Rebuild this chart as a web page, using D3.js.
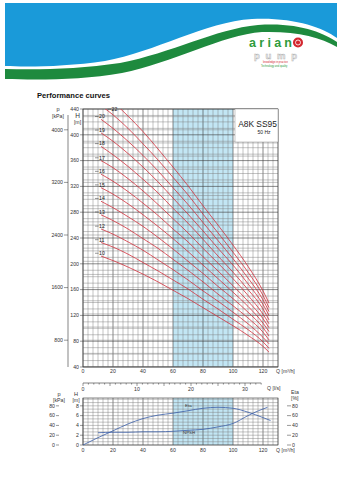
<!DOCTYPE html>
<html><head><meta charset="utf-8">
<script src="https://cdn.jsdelivr.net/npm/d3@7"></script>
<style>body{margin:0;background:#fff}svg{display:block}text{font-family:"Liberation Sans",Arial,sans-serif}</style>
</head><body><svg id="c" width="342" height="480"></svg>
<script>
// ---------- data ----------
const flowQ = [12, 20, 30, 40, 50, 60, 70, 80, 90, 100, 110, 120, 124];
const head10 = [212, 205, 195, 184, 172, 159, 146, 132, 118, 104, 89, 72, 63];
const head11 = [233, 226, 215, 202, 189, 175, 161, 145, 130, 114, 98, 79, 69];
const head12 = [254, 246, 234, 221, 206, 191, 175, 158, 142, 125, 107, 86, 76];
const head13 = [276, 267, 254, 239, 224, 207, 190, 172, 153, 135, 116, 94, 82];
const head14 = [297, 287, 273, 258, 241, 223, 204, 185, 165, 146, 125, 101, 88];
const head15 = [318, 308, 293, 276, 258, 239, 219, 198, 177, 156, 134, 108, 95];
const head16 = [339, 328, 312, 294, 275, 254, 234, 211, 189, 166, 142, 115, 101];
const head17 = [360, 349, 332, 313, 292, 270, 248, 224, 201, 177, 151, 122, 107];
const head18 = [382, 369, 351, 331, 310, 286, 263, 238, 212, 187, 160, 130, 113];
const head19 = [403, 390, 371, 350, 327, 302, 277, 251, 224, 198, 169, 137, 120];
const head20 = [424, 410, 390, 368, 344, 318, 292, 264, 236, 208, 178, 144, 126];
const head21 = [445, 431, 410, 386, 361, 334, 307, 277, 248, 218, 187, 151, 132];
const head22 = [466, 451, 429, 405, 378, 350, 321, 290, 260, 229, 196, 158, 139];
const stageNames = ["10","11","12","13","14","15","16","17","18","19","20","21","22"];
const labelledStages = ["10","11","12","13","14","15","16","17","18","19","20","22"];

const qTicks = [0, 20, 40, 60, 80, 100, 120];
const qLsTicks = [0, 10, 20, 30];
const hTicks = [40, 80, 120, 160, 200, 240, 280, 320, 360, 400, 440];
const pTicks = [800, 1600, 2400, 3200, 4000];
const hSmallTicks = [0, 2, 4, 6, 8];
const pSmallTicks = [0, 20, 40, 60, 80];
const etaTicks = [0, 20, 40, 60, 80];
const bandRange = [60, 100];

const effQ = [0, 10, 20, 30, 40, 50, 60, 70, 80, 90, 100, 110, 120, 125];
const effVal = [0, 15, 29, 43, 54, 61, 65, 70, 75, 77, 75, 67, 56, 50];
const npshQ = [10, 20, 30, 40, 50, 60, 70, 80, 90, 100, 110, 117, 123];
const npshVal = [2.5, 2.6, 2.6, 2.7, 2.7, 2.8, 3.0, 3.2, 3.7, 4.4, 6.0, 7.0, 7.7];

const headSeries = [head10, head11, head12, head13, head14, head15, head16, head17, head18, head19, head20, head21, head22];

// ---------- setup ----------
const svg = d3.select("#c");
const RED = "#d2303c", BLUE = "#3a5ea8", BAND = "#c2e6f4";
const GRID = "#7a7a7a", GRIDM = "#3a3a3a";

// header graphic
svg.append("path").attr("fill", "#1a9ad9")
  .attr("d", "M5,3 H337 V38 C322,27 292,17 252,19 C205,22 155,52 105,61 C65,67 25,67 5,66 Z");
svg.append("path").attr("fill", "#1e8a3e")
  .attr("d", "M5,69 C40,70 80,69 120,63 C172,53 215,29 258,25 C298,22 324,33 337,42 L337,47 C320,37 296,31 262,32 C222,35 172,63 122,73 C82,80 40,80 5,79 Z");
// logo
svg.append("text").attr("x", 249).attr("y", 46.5).attr("font-size", 12.5).attr("font-weight", "bold")
  .attr("fill", "#2e9b3d").attr("textLength", 43).text("arian");
svg.append("circle").attr("cx", 298).attr("cy", 42.5).attr("r", 5).attr("fill", "#d3262e");
svg.append("circle").attr("cx", 298).attr("cy", 42.5).attr("r", 2.5).attr("fill", "none").attr("stroke", "#fff").attr("stroke-width", 0.8);
svg.append("text").attr("x", 254).attr("y", 58.5).attr("font-size", 9.5).attr("font-weight", "bold")
  .attr("fill", "#f2f2f2").attr("stroke", "#b5b5b5").attr("stroke-width", 0.5).attr("textLength", 43).text("pump");
svg.append("text").attr("x", 263).attr("y", 62.5).attr("font-size", 2.6).attr("fill", "#d3262e").text("knowledge in practice");
svg.append("text").attr("x", 261).attr("y", 66.5).attr("font-size", 2.6).attr("fill", "#2e9b3d").text("Technology and quality");

svg.append("text").attr("x", 37).attr("y", 98).attr("font-size", 7.6).attr("font-weight", "bold")
  .attr("fill", "#111").text("Performance curves");

// ---------- main chart ----------
const L = 83, R = 278, T = 109, B = 367;
const x = d3.scaleLinear([0, 130], [L, R]);
const y = d3.scaleLinear([40, 440], [B, T]);
const isMajorQ = d => Math.abs(d / 20 - Math.round(d / 20)) < 1e-6;

const main = svg.append("g");
main.append("rect").attr("x", x(bandRange[0])).attr("y", T).attr("width", x(bandRange[1]) - x(bandRange[0]))
  .attr("height", B - T).attr("fill", BAND);

const gridV = d3.range(0, 130.01, 10 / 3);
main.append("g").selectAll("line").data(gridV).join("line")
  .attr("x1", d => x(d)).attr("x2", d => x(d)).attr("y1", T).attr("y2", B)
  .attr("stroke", d => isMajorQ(d) ? GRIDM : GRID)
  .attr("stroke-width", d => isMajorQ(d) ? 0.6 : 0.45);
const gridH = d3.range(40, 440.01, 10);
main.append("g").selectAll("line").data(gridH).join("line")
  .attr("x1", L).attr("x2", R).attr("y1", d => y(d)).attr("y2", d => y(d))
  .attr("stroke", d => d % 40 === 0 ? GRIDM : GRID).attr("stroke-width", d => d % 40 === 0 ? 0.6 : 0.45);
const gridP = d3.range(400, 4300, 200);
main.append("g").selectAll("line").data(gridP).join("line")
  .attr("x1", L).attr("x2", R).attr("y1", d => y(d / 9.81)).attr("y2", d => y(d / 9.81))
  .attr("stroke", GRID).attr("stroke-width", 0.45);

main.append("rect").attr("x", L).attr("y", T).attr("width", R - L).attr("height", B - T)
  .attr("fill", "none").attr("stroke", "#333").attr("stroke-width", 0.6);

// clip
svg.append("clipPath").attr("id", "clipMain").append("rect")
  .attr("x", L).attr("y", T).attr("width", R - L).attr("height", B - T);

const line = d3.line().x(d => x(d[0])).y(d => y(d[1])).curve(d3.curveMonotoneX);
main.append("g").attr("clip-path", "url(#clipMain)").selectAll("path")
  .data(headSeries).join("path")
  .attr("d", h => line(flowQ.map((q, i) => [q, h[i]])))
  .attr("fill", "none").attr("stroke", RED).attr("stroke-width", 0.8);

// stage labels
const lab = main.append("g");
stageNames.forEach((name, i) => {
  if (!labelledStages.includes(name)) return;
  const h = headSeries[i];
  let lx = x(flowQ[0]), ly = y(h[0]);
  if (ly < T + 2) { // curve enters from top
    const xs = d3.scaleLinear(h.slice(0, 3), flowQ.slice(0, 3));
    lx = x(xs(440)) - 7; ly = T + 3;
  }
  lab.append("line").attr("x1", lx - 6).attr("x2", lx - 2.5).attr("y1", ly - 2.8).attr("y2", ly - 2.8)
    .attr("stroke", "#333").attr("stroke-width", 0.5);
  lab.append("text").attr("x", lx - 2).attr("y", ly - 1).attr("font-size", 5.2).attr("fill", "#222").text(name);
});

// legend box
main.append("rect").attr("x", 235).attr("y", T).attr("width", R - 235).attr("height", 33)
  .attr("fill", "#fff").attr("stroke", "#777").attr("stroke-width", 0.4);
main.append("text").attr("x", 257.5).attr("y", 127).attr("text-anchor", "middle").attr("font-size", 8.4)
  .attr("font-family", "Liberation Serif, Times New Roman, serif").attr("fill", "#222").text("A8K SS95");
main.append("text").attr("x", 264).attr("y", 134).attr("text-anchor", "middle").attr("font-size", 5)
  .attr("font-family", "Liberation Serif, Times New Roman, serif").attr("fill", "#222").text("50 Hz");

// axes main
const fs = 5.2;
const hAxis = main.append("g");
hAxis.selectAll("line").data(hTicks).join("line")
  .attr("x1", L - 3).attr("x2", L).attr("y1", d => y(d)).attr("y2", d => y(d)).attr("stroke", "#333").attr("stroke-width", 0.5);
hAxis.selectAll("text").data(hTicks).join("text")
  .attr("x", L - 4).attr("y", d => y(d) + 1.8).attr("text-anchor", "end").attr("font-size", fs).attr("fill", "#333").text(d => d);
const pX = 68;
main.append("line").attr("x1", pX).attr("x2", pX).attr("y1", T + 6).attr("y2", B).attr("stroke", "#333").attr("stroke-width", 0.6);
const pAxis = main.append("g");
pAxis.selectAll("line").data(pTicks).join("line")
  .attr("x1", pX - 4).attr("x2", pX).attr("y1", d => y(d / 9.81)).attr("y2", d => y(d / 9.81)).attr("stroke", "#333").attr("stroke-width", 0.5);
pAxis.selectAll("text").data(pTicks).join("text")
  .attr("x", pX - 5).attr("y", d => y(d / 9.81) + 1.8).attr("text-anchor", "end").attr("font-size", fs).attr("fill", "#333").text(d => d);
main.append("text").attr("x", 58).attr("y", 111).attr("text-anchor", "middle").attr("font-size", 5.6).attr("fill", "#333").text("p");
main.append("text").attr("x", 58).attr("y", 117.5).attr("text-anchor", "middle").attr("font-size", 5.2).attr("fill", "#333").text("[kPa]");
main.append("text").attr("x", 77.5).attr("y", 117.5).attr("text-anchor", "middle").attr("font-size", 6.5).attr("fill", "#333").text("H");
main.append("text").attr("x", 77.5).attr("y", 124).attr("text-anchor", "middle").attr("font-size", 5.2).attr("fill", "#333").text("[m]");

main.append("g").selectAll("text").data(qTicks).join("text")
  .attr("x", d => x(d)).attr("y", B + 6).attr("text-anchor", "middle").attr("font-size", fs).attr("fill", "#333").text(d => d);
main.append("text").attr("x", 276).attr("y", B + 6).attr("font-size", fs).attr("fill", "#333").text("Q [m³/h]");

// l/s axis
const xls = d3.scaleLinear([0, 130 / 3.6], [L, R]);
const lsY = 383;
svg.append("line").attr("x1", L).attr("x2", xls(33)).attr("y1", lsY).attr("y2", lsY).attr("stroke", "#333").attr("stroke-width", 0.6);
svg.append("g").selectAll("line").data(d3.range(0, 34, 1)).join("line")
  .attr("x1", d => xls(d)).attr("x2", d => xls(d)).attr("y1", lsY).attr("y2", d => d % 5 === 0 ? lsY + 3 : lsY + 1.6)
  .attr("stroke", "#333").attr("stroke-width", 0.5);
svg.append("g").selectAll("text").data(qLsTicks).join("text")
  .attr("x", d => xls(d)).attr("y", lsY + 8).attr("text-anchor", "middle").attr("font-size", fs).attr("fill", "#333").text(d => d);
svg.append("text").attr("x", 267).attr("y", lsY + 7).attr("font-size", fs).attr("fill", "#333").text("Q [l/s]");

// ---------- bottom chart ----------
const bT = 398, bB = 445;
const yb = d3.scaleLinear([0, 9.6], [bB, bT]);
const bot = svg.append("g");
bot.append("rect").attr("x", x(bandRange[0])).attr("y", bT).attr("width", x(bandRange[1]) - x(bandRange[0]))
  .attr("height", bB - bT).attr("fill", BAND);
bot.append("g").selectAll("line").data(gridV).join("line")
  .attr("x1", d => x(d)).attr("x2", d => x(d)).attr("y1", bT).attr("y2", bB)
  .attr("stroke", d => isMajorQ(d) ? GRIDM : GRID)
  .attr("stroke-width", d => isMajorQ(d) ? 0.6 : 0.45);
bot.append("g").selectAll("line").data(d3.range(0, 9.61, 2 / 3)).join("line")
  .attr("x1", L).attr("x2", R).attr("y1", d => yb(d)).attr("y2", d => yb(d))
  .attr("stroke", GRID).attr("stroke-width", 0.45);
bot.append("rect").attr("x", L).attr("y", bT).attr("width", R - L).attr("height", bB - bT)
  .attr("fill", "none").attr("stroke", "#333").attr("stroke-width", 0.6);

const lineB = d3.line().x(d => x(d[0])).y(d => yb(d[1])).curve(d3.curveMonotoneX);
bot.append("path").attr("d", lineB(effQ.map((q, i) => [q, effVal[i] / 10])))
  .attr("fill", "none").attr("stroke", BLUE).attr("stroke-width", 0.8);
bot.append("path").attr("d", lineB(npshQ.map((q, i) => [q, npshVal[i]])))
  .attr("fill", "none").attr("stroke", BLUE).attr("stroke-width", 0.8);
bot.append("text").attr("x", 185).attr("y", 406.5).attr("font-size", 4.4).attr("fill", "#333").text("Eta");
bot.append("text").attr("x", 183).attr("y", 433.5).attr("font-size", 4.4).attr("fill", "#333").text("NPSH");

// bottom axes
bot.append("g").selectAll("line").data(hSmallTicks).join("line")
  .attr("x1", L - 3).attr("x2", L).attr("y1", d => yb(d)).attr("y2", d => yb(d)).attr("stroke", "#333").attr("stroke-width", 0.5);
bot.append("g").selectAll("text").data(hSmallTicks).join("text")
  .attr("x", L - 4).attr("y", d => yb(d) + 1.8).attr("text-anchor", "end").attr("font-size", fs).attr("fill", "#333").text(d => d);
bot.append("g").selectAll("line").data(pSmallTicks).join("line")
  .attr("x1", 56).attr("x2", 59).attr("y1", d => yb(d / 10)).attr("y2", d => yb(d / 10)).attr("stroke", "#333").attr("stroke-width", 0.5);
bot.append("g").selectAll("text").data(pSmallTicks).join("text")
  .attr("x", 55).attr("y", d => yb(d / 10) + 1.8).attr("text-anchor", "end").attr("font-size", fs).attr("fill", "#333").text(d => d);
bot.append("text").attr("x", 59).attr("y", 396).attr("text-anchor", "middle").attr("font-size", 5.6).attr("fill", "#333").text("p");
bot.append("text").attr("x", 59).attr("y", 401.5).attr("text-anchor", "middle").attr("font-size", 5.2).attr("fill", "#333").text("[kPa]");
bot.append("text").attr("x", 76).attr("y", 396).attr("text-anchor", "middle").attr("font-size", 5.6).attr("fill", "#333").text("H");
bot.append("text").attr("x", 76).attr("y", 401.5).attr("text-anchor", "middle").attr("font-size", 5.2).attr("fill", "#333").text("[m]");
// eta axis right
bot.append("g").selectAll("line").data(etaTicks).join("line")
  .attr("x1", 287).attr("x2", 291).attr("y1", d => yb(d / 10)).attr("y2", d => yb(d / 10)).attr("stroke", "#333").attr("stroke-width", 0.5);
bot.append("g").selectAll("text").data(etaTicks).join("text")
  .attr("x", 292).attr("y", d => yb(d / 10) + 1.8).attr("font-size", fs).attr("fill", "#333").text(d => d);
bot.append("text").attr("x", 291).attr("y", 393.5).attr("font-size", 5.2).attr("fill", "#333").text("Eta");
bot.append("text").attr("x", 291).attr("y", 399.5).attr("font-size", 5.2).attr("fill", "#333").text("[%]");
bot.append("g").selectAll("text").data(qTicks).join("text")
  .attr("x", d => x(d)).attr("y", bB + 7).attr("text-anchor", "middle").attr("font-size", fs).attr("fill", "#333").text(d => d);
bot.append("text").attr("x", 276).attr("y", bB + 7).attr("font-size", fs).attr("fill", "#333").text("Q [m³/h]");
</script></body></html>
